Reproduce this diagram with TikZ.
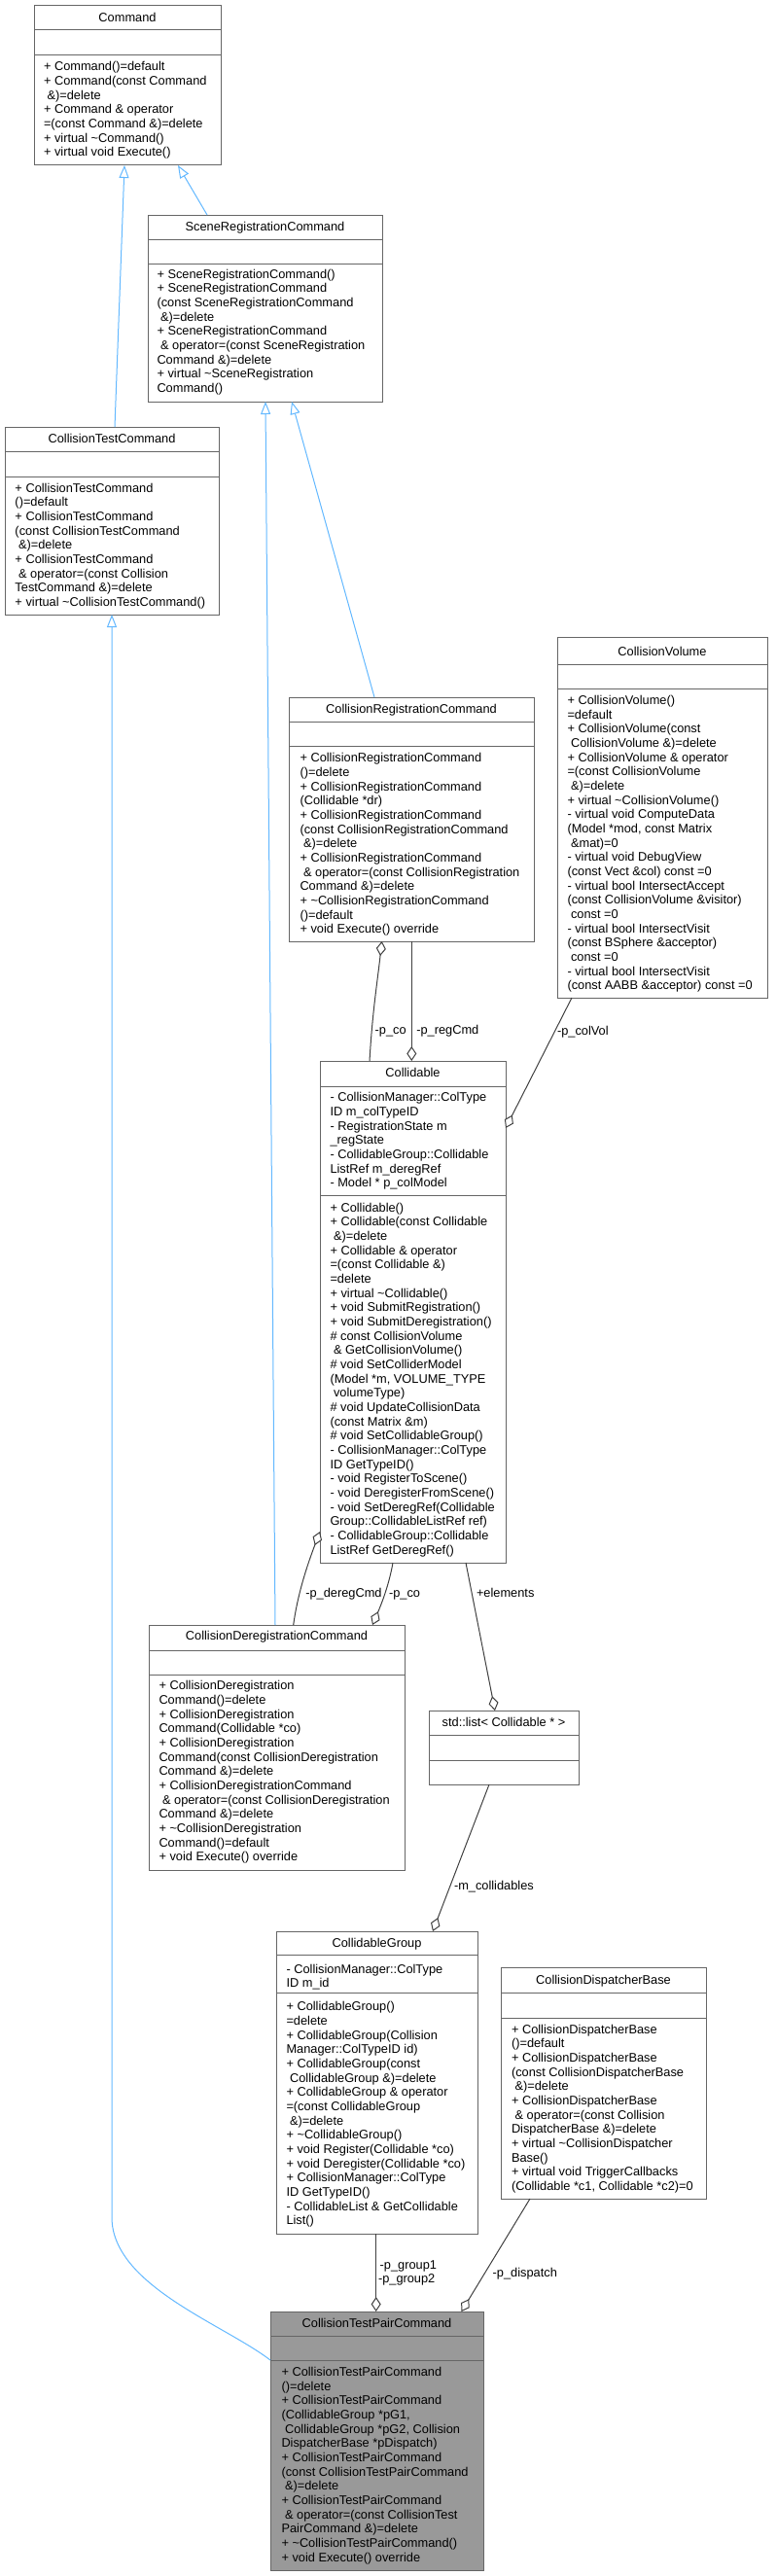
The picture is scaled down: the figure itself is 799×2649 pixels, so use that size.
\documentclass[tikz,border=0pt]{standalone}
\usepackage{fontspec}
\setmainfont{Liberation Sans}
\usetikzlibrary{arrows.meta,calc}
\definecolor{boxline}{HTML}{666666}
\definecolor{aggline}{HTML}{404040}
\definecolor{inhline}{HTML}{63B8FF}
\definecolor{selfill}{HTML}{999999}
\tikzset{
  txt/.style={inner sep=0pt, outer sep=0pt, font=\fontsize{12.8}{14.67}\selectfont},
  classbox/.style={draw=boxline, line width=1pt, inner sep=0pt, outer sep=0pt, anchor=north west},
  sepline/.style={draw=boxline, line width=1pt},
  inherit/.style={draw=inhline, line width=1pt, -{Triangle[fill=white, length=13pt, width=10pt]}},
  aggr/.style={draw=aggline, line width=1pt, -{Diamond[fill=white, length=15pt, width=10pt]}},
}
% #1 fill, #2 name, #3 L, #4 T, #5 R, #6 B, #7 s1, #8 s2
\newcommand{\umlbox}[8][white]{%
  \node[classbox, fill=#1, minimum width={(#5-#3)*1pt}, minimum height={(#6-#4)*1pt}] (#2) at (#3,#4) {};
  \draw[sepline] (#3,#7) -- (#5,#7);
  \draw[sepline] (#3,#8) -- (#5,#8);
}
% #1 name, #2 L, #3 R, #4 center y, #5 text
\newcommand{\umltitle}[5]{%
  \node[txt, anchor=base] (#1) at ({(#2+#3)/2},{#4+4.5}) {#5};
}
% #1 prefix, #2 x, #3 first center y, #4 list
\newcommand{\mlines}[4]{%
  \foreach \ln [count=\i from 0] in {#4} {
    \node[txt, anchor=base west] (#1-\i) at ({#2},{#3+4.5+\i*14.67}) {\ln};
  }
}
\begin{document}
\begin{tikzpicture}[x=1pt,y=-1pt]
\useasboundingbox (0,0) rectangle (799,2649);

% Command
\umlbox{cmd}{35}{6}{227}{170}{31}{57}
\umltitle{cmd-t}{35}{227}{18.5}{Command}
\mlines{cmd-m}{45}{68.3}{{+ Command()=default},{+ Command(const Command},{\ \&)=delete},{+ Command \& operator},{=(const Command \&)=delete},{+ virtual \textasciitilde Command()},{+ virtual void Execute()}}

% SceneRegistrationCommand
\umlbox{scene}{152}{221}{393}{413}{246}{271}
\umltitle{scene-t}{152}{393}{233}{SceneRegistrationCommand}
\mlines{scene-m}{161.5}{281.7}{{+ SceneRegistrationCommand()},{+ SceneRegistrationCommand},{(const SceneRegistrationCommand},{\ \&)=delete},{+ SceneRegistrationCommand},{\ \& operator=(const SceneRegistration},{Command \&)=delete},{+ virtual \textasciitilde SceneRegistration},{Command()}}

% CollisionTestCommand
\umlbox{ctc}{5}{439}{225}{632}{464}{490}
\umltitle{ctc-t}{5}{225}{451}{CollisionTestCommand}
\mlines{ctc-m}{15.5}{501.7}{{+ CollisionTestCommand},{()=default},{+ CollisionTestCommand},{(const CollisionTestCommand},{\ \&)=delete},{+ CollisionTestCommand},{\ \& operator=(const Collision},{TestCommand \&)=delete},{+ virtual \textasciitilde CollisionTestCommand()}}

% CollisionVolume
\umlbox{cv}{573}{655}{789}{1026}{683}{708}
\umltitle{cv-t}{573}{789}{670}{CollisionVolume}
\mlines{cv-m}{583.5}{720}{{+ CollisionVolume()},{=default},{+ CollisionVolume(const},{\ CollisionVolume \&)=delete},{+ CollisionVolume \& operator},{=(const CollisionVolume},{\ \&)=delete},{+ virtual \textasciitilde CollisionVolume()},{- virtual void ComputeData},{(Model *mod, const Matrix},{\ \&mat)=0},{- virtual void DebugView},{(const Vect \&col) const =0},{- virtual bool IntersectAccept},{(const CollisionVolume \&visitor)},{\ const =0},{- virtual bool IntersectVisit},{(const BSphere \&acceptor)},{\ const =0},{- virtual bool IntersectVisit},{(const AABB \&acceptor) const =0}}

% CollisionRegistrationCommand
\umlbox{crc}{297}{717}{549}{968}{742}{767}
\umltitle{crc-t}{297}{549}{728.5}{CollisionRegistrationCommand}
\mlines{crc-m}{308.5}{779.3}{{+ CollisionRegistrationCommand},{()=delete},{+ CollisionRegistrationCommand},{(Collidable *dr)},{+ CollisionRegistrationCommand},{(const CollisionRegistrationCommand},{\ \&)=delete},{+ CollisionRegistrationCommand},{\ \& operator=(const CollisionRegistration},{Command \&)=delete},{+ \textasciitilde CollisionRegistrationCommand},{()=default},{+ void Execute() override}}

% Collidable
\umlbox{col}{329}{1091}{520}{1607}{1117}{1229}
\umltitle{col-t}{329}{520}{1103}{Collidable}
\mlines{col-a}{339.5}{1128.3}{{- CollisionManager::ColType},{ID m\_colTypeID},{- RegistrationState m},{\_regState},{- CollidableGroup::Collidable},{ListRef m\_deregRef},{- Model * p\_colModel}}
\mlines{col-m}{339.5}{1241.7}{{+ Collidable()},{+ Collidable(const Collidable},{\ \&)=delete},{+ Collidable \& operator},{=(const Collidable \&)},{=delete},{+ virtual \textasciitilde Collidable()},{+ void SubmitRegistration()},{+ void SubmitDeregistration()},{\# const CollisionVolume},{\ \& GetCollisionVolume()},{\# void SetColliderModel},{(Model *m, VOLUME\_TYPE},{\ volumeType)},{\# void UpdateCollisionData},{(const Matrix \&m)},{\# void SetCollidableGroup()},{- CollisionManager::ColType},{ID GetTypeID()},{- void RegisterToScene()},{- void DeregisterFromScene()},{- void SetDeregRef(Collidable},{Group::CollidableListRef ref)},{- CollidableGroup::Collidable},{ListRef GetDeregRef()}}

% CollisionDeregistrationCommand
\umlbox{cdc}{153}{1671}{416}{1923}{1697}{1722}
\umltitle{cdc-t}{153}{416}{1682}{CollisionDeregistrationCommand}
\mlines{cdc-m}{163.5}{1733.3}{{+ CollisionDeregistration},{Command()=delete},{+ CollisionDeregistration},{Command(Collidable *co)},{+ CollisionDeregistration},{Command(const CollisionDeregistration},{Command \&)=delete},{+ CollisionDeregistrationCommand},{\ \& operator=(const CollisionDeregistration},{Command \&)=delete},{+ \textasciitilde CollisionDeregistration},{Command()=default},{+ void Execute() override}}

% std::list
\umlbox{list}{441}{1759}{595}{1835}{1784}{1810}
\umltitle{list-t}{441}{595}{1771}{std::list< Collidable * >}

% CollidableGroup
\umlbox{cg}{284}{1986}{491}{2297}{2010}{2049}
\umltitle{cg-t}{284}{491}{1998}{CollidableGroup}
\mlines{cg-a}{294.5}{2024.5}{{- CollisionManager::ColType},{ID m\_id}}
\mlines{cg-m}{294.5}{2063.3}{{+ CollidableGroup()},{=delete},{+ CollidableGroup(Collision},{Manager::ColTypeID id)},{+ CollidableGroup(const},{\ CollidableGroup \&)=delete},{+ CollidableGroup \& operator},{=(const CollidableGroup},{\ \&)=delete},{+ \textasciitilde CollidableGroup()},{+ void Register(Collidable *co)},{+ void Deregister(Collidable *co)},{+ CollisionManager::ColType},{ID GetTypeID()},{- CollidableList \& GetCollidable},{List()}}

% CollisionDispatcherBase
\umlbox{cdb}{515}{2023}{726}{2261}{2049}{2075}
\umltitle{cdb-t}{515}{726}{2036}{CollisionDispatcherBase}
\mlines{cdb-m}{526}{2086.7}{{+ CollisionDispatcherBase},{()=default},{+ CollisionDispatcherBase},{(const CollisionDispatcherBase},{\ \&)=delete},{+ CollisionDispatcherBase},{\ \& operator=(const Collision},{DispatcherBase \&)=delete},{+ virtual \textasciitilde CollisionDispatcher},{Base()},{+ virtual void TriggerCallbacks},{(Collidable *c1, Collidable *c2)=0}}

% CollisionTestPairCommand
\umlbox[selfill]{ctpc}{278}{2377}{497}{2643}{2402}{2427}
\umltitle{ctpc-t}{278}{497}{2388.5}{CollisionTestPairCommand}
\mlines{ctpc-m}{289.5}{2439}{{+ CollisionTestPairCommand},{()=delete},{+ CollisionTestPairCommand},{(CollidableGroup *pG1,},{\ CollidableGroup *pG2, Collision},{DispatcherBase *pDispatch)},{+ CollisionTestPairCommand},{(const CollisionTestPairCommand},{\ \&)=delete},{+ CollisionTestPairCommand},{\ \& operator=(const CollisionTest},{PairCommand \&)=delete},{+ \textasciitilde CollisionTestPairCommand()},{+ void Execute() override}}

% inheritance
\draw[inherit] ([xshift=113pt]ctc.north west) -- ([xshift=93pt]cmd.south west);
\draw[inherit] ([xshift=61pt]scene.north west) -- ([xshift=148pt]cmd.south west);
\draw[inherit] ([xshift=130pt]cdc.north west) -- ([xshift=121pt]scene.south west);
\draw[inherit] ([xshift=88pt]crc.north west) -- ([xshift=148pt]scene.south west);
\draw[inherit] ([yshift=-50pt]ctpc.north west) .. controls (230,2390) and (115,2350) .. (115,2280) -- ([xshift=110pt]ctc.south west);

% aggregation
\draw[aggr] ([xshift=51pt]col.north west) .. controls (383,1040) and (388,1010) .. ([xshift=95.7pt]crc.south west);
\draw[aggr] ([xshift=126.3pt]crc.south west) -- ([xshift=94.3pt]col.north west);
\draw[aggr] ([xshift=15pt]cv.south west) -- ([yshift=-69pt]col.north east);
\draw[aggr] ([xshift=148.7pt]cdc.north west) .. controls (306,1640) and (315,1612) .. ([yshift=-484pt]col.north west);
\draw[aggr] ([xshift=75pt]col.south west) .. controls (400,1630) and (392,1650) .. ([xshift=230pt]cdc.north west);
\draw[aggr] ([xshift=150pt]col.south west) -- ([xshift=68pt]list.north west);
\draw[aggr] ([xshift=62pt]list.south west) -- ([xshift=161pt]cg.north west);
\draw[aggr] ([xshift=102.7pt]cg.south west) -- ([xshift=108.7pt]ctpc.north west);
\draw[aggr] ([xshift=30pt]cdb.south west) -- ([xshift=196.5pt]ctpc.north west);

% labels
\node[txt, anchor=base west] (l-pco1) at (385.7,1063.5) {-p\_co};
\node[txt, anchor=base west] (l-preg) at (428.3,1063.5) {-p\_regCmd};
\node[txt, anchor=base west] (l-pvol) at (573,1064.5) {-p\_colVol};
\node[txt, anchor=base west] (l-pdereg) at (314.3,1642.8) {-p\_deregCmd};
\node[txt, anchor=base west] (l-pco2) at (400,1642.5) {-p\_co};
\node[txt, anchor=base west] (l-elem) at (490,1642.5) {+elements};
\node[txt, anchor=base west] (l-mcoll) at (467,1943.5) {-m\_collidables};
\node[txt, anchor=base west] (l-pg1) at (390.7,2333.5) {-p\_group1};
\node[txt, anchor=base west] (l-pg2) at (389,2347.8) {-p\_group2};
\node[txt, anchor=base west] (l-pdisp) at (506.7,2341.2) {-p\_dispatch};
\end{tikzpicture}
\end{document}
